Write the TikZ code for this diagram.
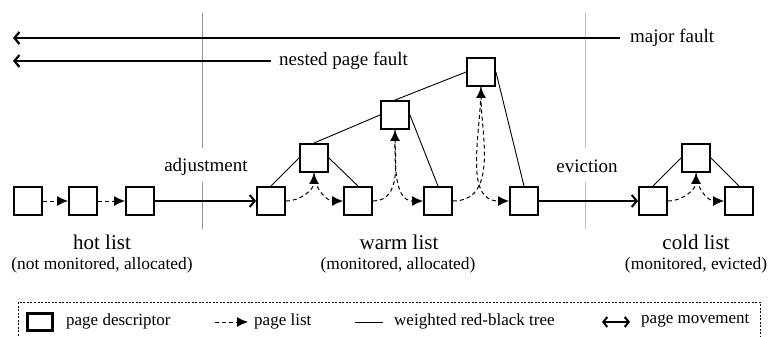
\documentclass[tikz,border=0pt]{standalone}
\usepackage{fontspec}
\setmainfont{Liberation Serif}
\usetikzlibrary{arrows.meta}
\begin{document}
\begin{tikzpicture}[x=1pt,y=-1pt,
  pd/.style={draw, line width=2.4pt, minimum size=27.5pt, inner sep=0pt, fill=white},
  treeedge/.style={line width=0.9pt},
  plist/.style={line width=1pt, dash pattern=on 4pt off 3pt, -{Latex[length=11pt,width=10pt]}},
  moveline/.style={line width=2pt, -{Straight Barb[length=5pt,width=12pt]}},
  fault/.style={line width=2.2pt, -{Straight Barb[length=5pt,width=12pt]}},
  divider/.style={line width=1pt},
  ttl/.style={font=\fontsize{21}{24}\selectfont, inner sep=0pt},
  sub/.style={font=\fontsize{17.4}{20}\selectfont, inner sep=0pt},
  lbl/.style={font=\fontsize{19}{22}\selectfont, inner sep=0pt},
  leg/.style={font=\fontsize{17}{20}\selectfont, inner sep=0pt, anchor=west},
]
\useasboundingbox (0,0) rectangle (771,337);

% dividers
\node[lbl] (adj) at (206,167) {adjustment};
\node[lbl] (evi) at (587,166) {eviction};
\coordinate (adjA) at (202,13);
\coordinate (adjB) at (202,148);
\coordinate (adjC) at (202,182);
\coordinate (adjD) at (202,229);
\coordinate (eviA) at (585,13);
\coordinate (eviB) at (585,148);
\coordinate (eviC) at (585,182);
\coordinate (eviD) at (585,229);
\draw[divider, gray!85] (adjA) -- (adjB) (adjC) -- (adjD);
\draw[divider, gray!50] (eviA) -- (eviB) (eviC) -- (eviD);

% faults
\node[lbl, anchor=west, inner xsep=10pt] (mf) at (620,38) {major fault};
\node[lbl, anchor=west, inner xsep=8pt] (nf) at (271,61) {nested page fault};
\coordinate (mfend) at (13,38);
\coordinate (nfend) at (13,61);
\draw[fault] (mf.west) -- (mfend);
\draw[fault] (nf.west) -- (nfend);

% hot list
\node[pd] (h1) at (28,201) {};
\node[pd] (h2) at (83,201) {};
\node[pd] (h3) at (140,201) {};
\draw[plist] (h1) -- (h2);
\draw[plist] (h2) -- (h3);

% warm list
\node[pd] (w1) at (271,201) {};
\node[pd] (w2) at (358,201) {};
\node[pd] (w3) at (438,201) {};
\node[pd] (w4) at (524,201) {};
\node[pd] (t1) at (314,158) {};
\node[pd] (t2) at (395,115) {};
\node[pd] (t3) at (481,72) {};
\draw[treeedge] (t1.west) -- (w1.north);
\draw[treeedge] (t1.east) -- (w2.north);
\draw[treeedge] (t2.west) -- (t1.north);
\draw[treeedge] (t2.east) -- (w3.north);
\draw[treeedge] (t3.west) -- (t2.north);
\draw[treeedge] (t3.east) -- (w4.north);
\draw[plist] (w1.east) to[out=0,in=-90] (t1.south);
\draw[plist] (t1.south) to[out=-90,in=180] (w2.west);
\draw[plist] (w2.east) to[out=0,in=-90] (t2.south);
\draw[plist] (t2.south) to[out=-90,in=180] (w3.west);
\draw[plist] (w3.east) to[out=0,in=-90] (t3.south);
\draw[plist] (t3.south) to[out=-90,in=180] (w4.west);

% cold list
\node[pd] (c1) at (653,201) {};
\node[pd] (c2) at (739,201) {};
\node[pd] (ct) at (696,158) {};
\draw[treeedge] (ct.west) -- (c1.north);
\draw[treeedge] (ct.east) -- (c2.north);
\draw[plist] (c1.east) to[out=0,in=-90] (ct.south);
\draw[plist] (ct.south) to[out=-90,in=180] (c2.west);

% transitions
\draw[moveline] (h3.east) -- (w1.west);
\draw[moveline] (w4.east) -- (c1.west);

% list labels
\node[ttl] (hotl) at (102,242) {hot list};
\node[sub] (hots) at (102,265) {(not monitored, allocated)};
\node[ttl] (warml) at (399,242) {warm list};
\node[sub] (warms) at (398,265) {(monitored, allocated)};
\node[ttl] (coldl) at (696,242) {cold list};
\node[sub] (colds) at (696,265) {(monitored, evicted)};

% legend
\coordinate (legA) at (18,302);
\coordinate (legB) at (760,360);
\draw[line width=0.8pt, dash pattern=on 2pt off 1.5pt] (legA) rectangle (legB);
\node[draw, line width=2.4pt, minimum width=25pt, minimum height=17pt, inner sep=0pt] (lpd) at (40,322) {};
\node[leg] (lpdt) at (66,321) {page descriptor};
\coordinate (lpl1) at (215,322);
\coordinate (lpl2) at (248,322);
\draw[plist] (lpl1) -- (lpl2);
\node[leg] (lplt) at (254,321) {page list};
\coordinate (ltr1) at (355,322);
\coordinate (ltr2) at (383,322);
\draw[treeedge] (ltr1) -- (ltr2);
\node[leg] (ltrt) at (394,321) {weighted red-black tree};
\coordinate (lmv1) at (602,322);
\coordinate (lmv2) at (630,322);
\draw[line width=2pt, {Straight Barb[length=4pt,width=10pt]}-{Straight Barb[length=4pt,width=10pt]}] (lmv1) -- (lmv2);
\node[leg] (lmvt) at (641,321) {page movement};
\end{tikzpicture}
\end{document}
